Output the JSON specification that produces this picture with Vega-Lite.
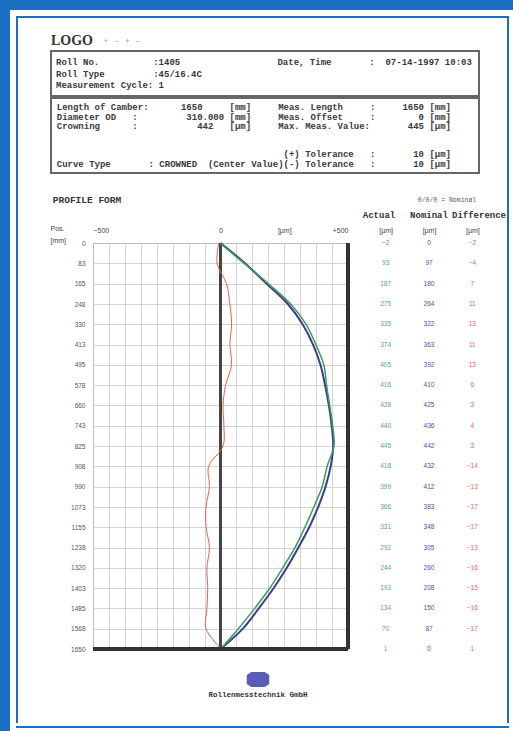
{
"$schema": "https://vega.github.io/schema/vega-lite/v6.json",
"padding": 0,
"background": "white",
"config": {"view": {"stroke": null}, "font": "Liberation Mono", "axis": {"labelFont": "Liberation Sans"}, "axisY": {"labelOverlap": false}},
"datasets": {
"profile": [
{"pos":0,"actual":-2,"nominal":0,"difference":-2},
{"pos":83,"actual":93,"nominal":97,"difference":-4},
{"pos":165,"actual":187,"nominal":180,"difference":7},
{"pos":248,"actual":275,"nominal":264,"difference":11},
{"pos":330,"actual":335,"nominal":322,"difference":13},
{"pos":413,"actual":374,"nominal":363,"difference":11},
{"pos":495,"actual":405,"nominal":392,"difference":13},
{"pos":578,"actual":416,"nominal":410,"difference":6},
{"pos":660,"actual":428,"nominal":425,"difference":3},
{"pos":743,"actual":440,"nominal":436,"difference":4},
{"pos":825,"actual":445,"nominal":442,"difference":3},
{"pos":908,"actual":418,"nominal":432,"difference":-14},
{"pos":990,"actual":399,"nominal":412,"difference":-13},
{"pos":1073,"actual":366,"nominal":383,"difference":-17},
{"pos":1155,"actual":331,"nominal":348,"difference":-17},
{"pos":1238,"actual":292,"nominal":305,"difference":-13},
{"pos":1320,"actual":244,"nominal":260,"difference":-16},
{"pos":1403,"actual":193,"nominal":208,"difference":-15},
{"pos":1485,"actual":134,"nominal":150,"difference":-16},
{"pos":1568,"actual":70,"nominal":87,"difference":-17},
{"pos":1650,"actual":1,"nominal":0,"difference":1}
]
},
"spacing": 0,
"hconcat": [
 {"width": 10, "height": 731, "data": {"values": []}, "mark": "rect", "view": {"fill": "#1b6fc2"}},
 {"spacing": 6, "vconcat": [
  {"width": 503, "height": 10, "data": {"values": []}, "mark": "rect", "view": {"fill": "#1b6fc2"}},
  {"spacing": 5, "hconcat": [
   {"width": 1, "height": 1, "data": {"values": []}, "mark": "rect"},
   {"spacing": 0, "vconcat": [
    {"width": 493, "height": 2, "data": {"values": []}, "mark": "rect", "view": {"fill": "#1b6fc2"}},
    {"spacing": 0, "hconcat": [
     {"width": 2, "height": 705, "data": {"values": []}, "mark": "rect", "view": {"fill": "#1b6fc2"}},
     {"spacing": 0, "vconcat": [
      {"width": 489, "height": 14, "data": {"values": []}, "mark": "rect"},
      {"spacing": 0, "hconcat": [
       {"width": 32, "height": 18, "data": {"values": []}, "mark": "rect"},
       {"width": 44, "height": 18, "data": {"values": [{"t": "LOGO"}]}, "mark": {"type": "text", "font": "Liberation Serif", "fontSize": 14, "fontWeight": "bold", "color": "#333"}, "encoding": {"text": {"field": "t"}}},
       {"width": 56, "height": 18, "data": {"values": [{"t": "+ – + –"}]}, "mark": {"type": "text", "fontSize": 9, "color": "#aaa", "baseline": "middle"}, "encoding": {"text": {"field": "t"}}}
      ]},
      {"spacing": 0, "hconcat": [
       {"width": 32, "height": 120, "data": {"values": []}, "mark": "rect"},
       {"spacing": 0, "vconcat": [
        {"width": 428, "height": 45, "view": {"stroke": "#666", "strokeWidth": 2},
         "data": {"values": [
          {"line": 1, "t": "Roll No.\u00a0\u00a0\u00a0\u00a0\u00a0\u00a0\u00a0\u00a0\u00a0\u00a0:1405\u00a0\u00a0\u00a0\u00a0\u00a0\u00a0\u00a0\u00a0\u00a0\u00a0\u00a0\u00a0\u00a0\u00a0\u00a0\u00a0\u00a0\u00a0Date, Time\u00a0\u00a0\u00a0\u00a0\u00a0\u00a0\u00a0:\u00a0\u00a007-14-1997 10:03"},
          {"line": 2, "t": "Roll Type\u00a0\u00a0\u00a0\u00a0\u00a0\u00a0\u00a0\u00a0\u00a0:45/16.4C"},
          {"line": 3, "t": "Measurement Cycle: 1"}
         ]},
         "mark": {"type": "text", "fontSize": 9, "fontWeight": "bold", "color": "#3a3a3a", "align": "left", "dx": 5},
         "encoding": {"x": {"datum": 0, "type": "quantitative", "scale": {"domain": [0, 1]}, "axis": null}, "y": {"field": "line", "type": "ordinal", "axis": null, "scale": {"domain": [1, 2, 3], "padding": 0.95}}, "text": {"field": "t"}}},
        {"width": 428, "height": 75, "view": {"stroke": "#666", "strokeWidth": 2},
         "data": {"values": [
          {"line": 0, "t": "Length of Camber:\u00a0\u00a0\u00a0\u00a0\u00a0\u00a01650\u00a0\u00a0\u00a0\u00a0\u00a0[mm]\u00a0\u00a0\u00a0\u00a0\u00a0Meas. Length\u00a0\u00a0\u00a0\u00a0\u00a0:\u00a0\u00a0\u00a0\u00a0\u00a01650 [mm]"},
          {"line": 1, "t": "Diameter OD\u00a0\u00a0\u00a0:\u00a0\u00a0\u00a0\u00a0\u00a0\u00a0\u00a0\u00a0\u00a0310.000\u00a0[mm]\u00a0\u00a0\u00a0\u00a0\u00a0Meas. Offset\u00a0\u00a0\u00a0\u00a0\u00a0:\u00a0\u00a0\u00a0\u00a0\u00a0\u00a0\u00a0\u00a00 [mm]"},
          {"line": 2, "t": "Crowning\u00a0\u00a0\u00a0\u00a0\u00a0\u00a0:\u00a0\u00a0\u00a0\u00a0\u00a0\u00a0\u00a0\u00a0\u00a0\u00a0\u00a0442\u00a0\u00a0\u00a0[µm]\u00a0\u00a0\u00a0\u00a0\u00a0Max. Meas. Value:\u00a0\u00a0\u00a0\u00a0\u00a0\u00a0\u00a0445 [µm]"},
          {"line": 5, "t": "(+) Tolerance\u00a0\u00a0\u00a0:\u00a0\u00a0\u00a0\u00a0\u00a0\u00a0\u00a010 [µm]"},
          {"line": 6, "t": "Curve Type\u00a0\u00a0\u00a0\u00a0\u00a0\u00a0\u00a0: CROWNED\u00a0\u00a0(Center Value)(-) Tolerance\u00a0\u00a0\u00a0:\u00a0\u00a0\u00a0\u00a0\u00a0\u00a0\u00a010 [µm]"}
         ]},
         "mark": {"type": "text", "fontSize": 9, "fontWeight": "bold", "color": "#3a3a3a", "align": "right", "dx": -28},
         "encoding": {"x": {"datum": 1, "type": "quantitative", "scale": {"domain": [0, 1]}, "axis": null}, "y": {"field": "line", "type": "ordinal", "axis": null, "scale": {"domain": [0, 1, 2, 3, 4, 5, 6], "padding": 1.17}}, "text": {"field": "t"}}}
       ]}
      ]},
      {"width": 10, "height": 19, "data": {"values": []}, "mark": "rect"},
      {"spacing": 0, "hconcat": [
       {"width": 34, "height": 14, "data": {"values": []}, "mark": "rect"},
       {"width": 70, "height": 14, "data": {"values": [{"t": "PROFILE FORM"}]}, "mark": {"type": "text", "fontSize": 9.5, "fontWeight": "bold", "color": "#333"}, "encoding": {"text": {"field": "t"}}},
       {"width": 290, "height": 14, "data": {"values": []}, "mark": "rect"},
       {"width": 70, "height": 14, "data": {"values": [{"t": "0/0/0 = Nominal"}]}, "mark": {"type": "text", "fontSize": 6.5, "color": "#555"}, "encoding": {"text": {"field": "t"}}}
      ]},
      {"columns": 4, "spacing": 0, "bounds": "flush", "concat": [
       {"width": 75, "height": 16, "data": {"values": []}, "mark": "rect"},
       {"width": 255, "height": 16, "data": {"values": []}, "mark": "rect"},
       {"width": 16, "height": 16, "data": {"values": []}, "mark": "rect"},
       {"width": 130, "height": 16, "data": {"values": [{"h": "Actual"}, {"h": "Nominal"}, {"h": "Difference"}]},
        "mark": {"type": "text", "fontSize": 9, "fontWeight": "bold", "color": "#333"},
        "encoding": {"x": {"field": "h", "type": "nominal", "axis": null, "scale": {"domain": ["Actual", "Nominal", "Difference"], "padding": 0.3}}, "text": {"field": "h"}}},
       {"width": 75, "height": 20, "data": {"values": []}, "mark": "rect"},
       {"width": 255, "height": 20, "data": {"values": []}, "mark": "rect"},
       {"width": 16, "height": 20, "data": {"values": []}, "mark": "rect"},
       {"width": 130, "height": 20, "data": {"values": []}, "mark": "rect"},
       {"width": 75, "height": 406, "data": {"values": []}, "mark": "rect"},
       {"width": 255, "height": 406, "view": {"stroke": "#8a8a8a", "strokeWidth": 1},
        "data": {"name": "profile"},
        "resolve": {"scale": {"x": "independent"}},
        "layer": [
         {"mark": {"type": "rule", "color": "#444", "strokeWidth": 2}, "encoding": {"x": {"datum": 0, "type": "quantitative", "scale": {"domain": [-500, 500]}, "axis": null}}},
         {"mark": {"type": "line", "color": "#3b3f8c", "strokeWidth": 2, "interpolate": "catmull-rom"},
          "encoding": {
           "x": {"field": "nominal", "type": "quantitative", "scale": {"domain": [-500, 500]},
                 "axis": {"orient": "bottom", "values": [-500,-437.5,-375,-312.5,-250,-187.5,-125,-62.5,0,62.5,125,187.5,250,312.5,375,437.5,500], "tickCount": 40, "grid": true, "gridColor": "#c9c9c9", "gridWidth": 0.8, "labels": false, "ticks": false, "domain": false, "title": null}},
           "y": {"field": "pos", "type": "quantitative", "scale": {"domain": [0, 1650], "reverse": true, "nice": false},
                 "axis": {"values": [0,83,165,248,330,413,495,578,660,743,825,908,990,1073,1155,1238,1320,1403,1485,1568,1650], "tickCount": 40, "format": "d", "grid": true, "gridColor": "#c9c9c9", "gridWidth": 0.8, "ticks": false, "domain": false, "labelFontSize": 6.5, "labelColor": "#555", "labelPadding": 8, "labelFlush": false, "labelOverlap": false,
                          "title": ["Pos.", "[mm]"], "titleAngle": 0, "titleAlign": "left", "titleBaseline": "top", "titleX": -43, "titleY": -19, "titleFontSize": 7, "titleFontWeight": "normal", "titleLineHeight": 12, "titleColor": "#444", "titleFont": "Liberation Sans"}},
           "order": {"field": "pos", "type": "quantitative"}}},
         {"mark": {"type": "line", "color": "#3f9a5c", "strokeWidth": 1.5, "interpolate": "catmull-rom"},
          "encoding": {
           "x": {"field": "actual", "type": "quantitative", "scale": {"domain": [-500, 500]},
                 "axis": {"orient": "top", "values": [-500, 0, 250, 500], "tickCount": 10, "labelExpr": "datum.value == 250 ? '[µm]' : (datum.value > 0 ? '+' + datum.label : datum.label)", "labelFlush": true, "grid": false, "ticks": false, "domain": false, "labelPadding": 10, "labelFontSize": 7, "labelColor": "#444", "title": null}},
           "y": {"field": "pos", "type": "quantitative"},
           "order": {"field": "pos", "type": "quantitative"}}},
         {"mark": {"type": "line", "color": "#e8604c", "strokeWidth": 1, "interpolate": "catmull-rom"},
          "encoding": {
           "x": {"field": "difference", "type": "quantitative", "scale": {"domain": [-150, 150]}, "axis": null},
           "y": {"field": "pos", "type": "quantitative"},
           "order": {"field": "pos", "type": "quantitative"}}},
         {"mark": {"type": "rule", "color": "#333", "strokeWidth": 2.5}, "encoding": {"x": {"datum": 500, "type": "quantitative", "scale": {"domain": [-500, 500]}, "axis": null}}},
         {"mark": {"type": "rule", "color": "#333", "strokeWidth": 2.5}, "encoding": {"y": {"datum": 1650, "type": "quantitative"}}}
        ]},
       {"width": 16, "height": 406, "data": {"values": []}, "mark": "rect"},
       {"width": 130, "height": 406, "data": {"name": "profile"},
        "transform": [{"fold": ["actual", "nominal", "difference"], "as": ["column", "value"]}],
        "mark": {"type": "text", "fontSize": 6.5, "font": "Liberation Sans"},
        "encoding": {
         "x": {"field": "column", "type": "nominal", "scale": {"domain": ["actual", "nominal", "difference"]},
               "axis": {"orient": "top", "labelExpr": "'[µm]'", "labelPadding": 10, "ticks": false, "domain": false, "labelFontSize": 7, "labelColor": "#444", "labelAngle": 0, "title": null}},
         "y": {"field": "pos", "type": "quantitative", "scale": {"domain": [0, 1650], "reverse": true, "nice": false}, "axis": null},
         "text": {"field": "value", "type": "quantitative"},
         "color": {"field": "column", "type": "nominal", "scale": {"domain": ["actual", "nominal", "difference"], "range": ["#5aa874", "#4b4fa6", "#e5674f"]}, "legend": null}}}
      ]},
      {"width": 10, "height": 15, "data": {"values": []}, "mark": "rect"},
      {"spacing": 0, "hconcat": [
       {"width": 180, "height": 36, "data": {"values": []}, "mark": "rect"},
       {"width": 120, "height": 36, "layer": [
        {"data": {"values": [{"r": 1}]}, "mark": {"type": "point", "shape": "M-1.5,-0.6L-0.9,-1L0.9,-1L1.5,-0.6L1.5,0.6L0.9,1L-0.9,1L-1.5,0.6Z", "size": 225, "filled": true, "color": "#5a5db8", "opacity": 1},
         "encoding": {"y": {"field": "r", "type": "ordinal", "scale": {"domain": [1, 2], "padding": 0.7}, "axis": null}}},
        {"data": {"values": [{"r": 2, "t": "Rollenmesstechnik GmbH"}]}, "mark": {"type": "text", "fontSize": 7.5, "fontWeight": "bold", "color": "#333"},
         "encoding": {"y": {"field": "r", "type": "ordinal", "axis": null}, "text": {"field": "t"}}}
       ]}
      ]},
      {"width": 10, "height": 21, "data": {"values": []}, "mark": "rect"}
     ]},
     {"width": 2, "height": 705, "data": {"values": []}, "mark": "rect", "view": {"fill": "#1b6fc2"}}
    ]},
    {"width": 493, "height": 2, "data": {"values": []}, "mark": "rect", "view": {"fill": "#1b6fc2"}}
   ]}
  ]}
 ]}
]
}
